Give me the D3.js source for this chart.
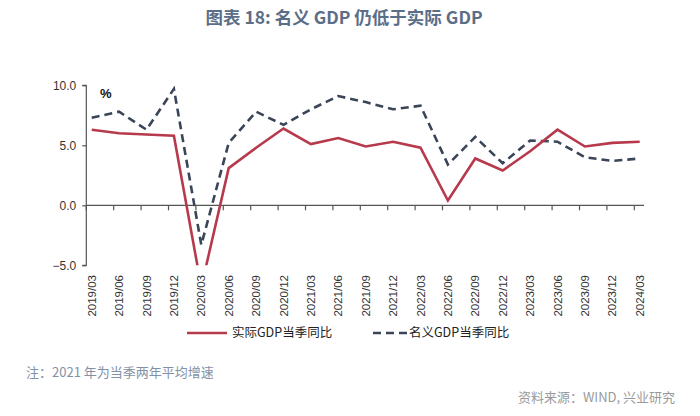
<!DOCTYPE html>
<html><head><meta charset="utf-8">
<script src="https://cdn.jsdelivr.net/npm/d3@7"></script>
<style>
body{margin:0;background:#fff;}
svg{display:block;}
</style></head>
<body>
<svg id="c" width="700" height="416"></svg>
<script>
const categories = ["2019/03","2019/06","2019/09","2019/12","2020/03","2020/06","2020/09","2020/12","2021/03","2021/06","2021/09","2021/12","2022/03","2022/06","2022/09","2022/12","2023/03","2023/06","2023/09","2023/12","2024/03"];
const realGDP    = [6.3,6.0,5.9,5.8,-6.8,3.1,4.8,6.4,5.1,5.6,4.9,5.3,4.8,0.4,3.9,2.9,4.5,6.3,4.9,5.2,5.3];
const nominalGDP = [7.3,7.8,6.3,9.7,-3.3,5.2,7.8,6.7,8.0,9.1,8.6,8.0,8.3,3.4,5.7,3.5,5.4,5.3,4.0,3.7,3.9];
const yTicks = [-5,0,5,10];
const seriesNames = ["实际GDP当季同比","名义GDP当季同比"];
const titleText = "图表 18: 名义 GDP 仍低于实际 GDP";
const noteText = "注：2021 年为当季两年平均增速";
const sourceText = "资料来源：WIND, 兴业研究";

const svg = d3.select("#c");
const axisColor = "#555";
const redC = "#b73a4c", blueC = "#3a4558";

const x = d3.scalePoint().domain(categories).range([91.7, 639.7]);
const y = d3.scaleLinear().domain([-5,10]).range([265.3, 85.3]);
const tickOff = 5.4;
const xAxisStart = 86.3, xAxisEnd = 644;

// title
svg.append("text").attr("x",344).attr("y",24).attr("text-anchor","middle")
  .attr("font-family","'Noto Sans CJK SC','Noto Sans',sans-serif").attr("font-size",17.5)
  .attr("font-weight",600).attr("fill","#5b6e88").text(titleText);

// clip
svg.append("defs").append("clipPath").attr("id","pc").append("rect")
  .attr("x",xAxisStart).attr("y",60).attr("width",xAxisEnd-xAxisStart).attr("height",y(-5)-60);

// y axis
const gy = svg.append("g").attr("transform",`translate(${xAxisStart},0)`)
  .call(d3.axisLeft(y).tickValues(yTicks).tickSize(4).tickPadding(6).tickFormat(d3.format(".1f")));
gy.select(".domain").attr("stroke",axisColor).attr("stroke-width",1.2).attr("d",`M-4,${y(10)}H0V${y(-5)}H-4`);
gy.selectAll(".tick line").attr("stroke",axisColor).attr("stroke-width",1.2);
gy.selectAll(".tick text").attr("font-family","'Liberation Sans',Arial,sans-serif").attr("font-size",12).attr("fill","#333");

// x axis at 0
const gx = svg.append("g").attr("transform",`translate(0,${y(0)})`);
gx.append("line").attr("x1",xAxisStart).attr("x2",xAxisEnd).attr("stroke",axisColor).attr("stroke-width",1.2);
gx.selectAll("line.t").data(categories).join("line").attr("class","t")
  .attr("x1",d=>x(d)-tickOff).attr("x2",d=>x(d)-tickOff).attr("y1",0).attr("y2",5)
  .attr("stroke",axisColor).attr("stroke-width",1.2);

// x labels
svg.append("g").selectAll("text").data(categories).join("text")
  .attr("transform",d=>`translate(${x(d)},275) rotate(-90)`)
  .attr("dy","0.35em").attr("text-anchor","end")
  .attr("font-family","'Liberation Sans',Arial,sans-serif").attr("font-size",11.5).attr("fill","#333")
  .text(d=>d);

// lines
const line = d3.line().x((d,i)=>x(categories[i])).y(d=>y(d));
const plot = svg.append("g").attr("clip-path","url(#pc)");
plot.append("path").datum(nominalGDP).attr("d",line).attr("fill","none")
  .attr("stroke",blueC).attr("stroke-width",2.6).attr("stroke-dasharray","8,5");
plot.append("path").datum(realGDP).attr("d",line).attr("fill","none")
  .attr("stroke",redC).attr("stroke-width",2.6);

// % label
svg.append("text").attr("x",100).attr("y",98).attr("font-family","'Liberation Sans',Arial,sans-serif")
  .attr("font-size",13).attr("font-weight","bold").attr("fill","#111").text("%");

// legend
const lg = svg.append("g");
lg.append("line").attr("x1",187).attr("x2",227).attr("y1",333).attr("y2",333).attr("stroke",redC).attr("stroke-width",2.6);
lg.append("text").attr("x",232).attr("y",333).attr("dy","0.35em")
  .attr("font-family","'Noto Sans CJK SC',sans-serif").attr("font-size",12.5).attr("fill","#222").text(seriesNames[0]);
lg.append("line").attr("x1",373).attr("x2",407).attr("y1",333).attr("y2",333).attr("stroke",blueC).attr("stroke-width",2.6).attr("stroke-dasharray","8,5");
lg.append("text").attr("x",409).attr("y",333).attr("dy","0.35em")
  .attr("font-family","'Noto Sans CJK SC',sans-serif").attr("font-size",12.5).attr("fill","#222").text(seriesNames[1]);

// footer
svg.append("text").attr("x",26).attr("y",372).attr("dy","0.35em")
  .attr("font-family","'Noto Sans CJK SC',sans-serif").attr("font-size",13).attr("fill","#8391a6").text(noteText);
svg.append("text").attr("x",675).attr("y",397.5).attr("dy","0.35em").attr("text-anchor","end")
  .attr("font-family","'Noto Sans CJK SC',sans-serif").attr("font-size",13).attr("fill","#9a9a9a").text(sourceText);
</script>
</body></html>
